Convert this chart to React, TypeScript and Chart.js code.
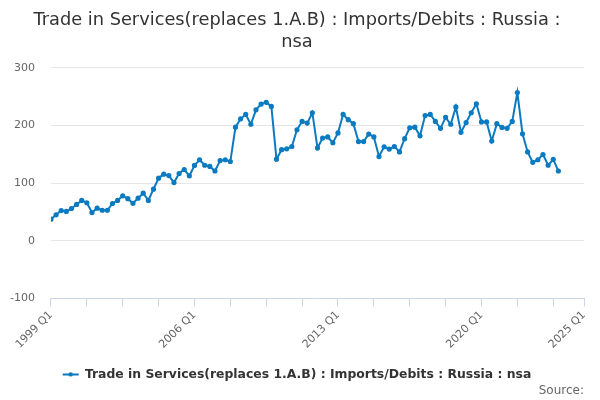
import React, { useEffect, useRef } from "react";
import { Chart, registerables } from "chart.js";

Chart.register(...registerables);

const TITLE_LINES = ["Trade in Services(replaces 1.A.B) : Imports/Debits : Russia :", "nsa"];
const SERIES_NAME = "Trade in Services(replaces 1.A.B) : Imports/Debits : Russia : nsa";
const START_YEAR = 1999;
const Y_TICKS = [-100, 0, 100, 200, 300];
const X_TICK_STEP = 7;
const X_LABEL_STEP = 28;
const X_AXIS_END = 104; // 2025 Q1

const values: number[] = [
  37.5, 45, 52.5, 51, 56, 63, 70, 66, 49, 56.5,
  53, 53, 64.7, 70, 78, 73, 65, 74, 82.5, 70,
  89.5, 108.5, 115.5, 113, 101, 116.7, 123.6, 112.7, 130.6, 140.5,
  131, 129, 121, 139, 140.5, 137.5, 197, 211.5, 219, 202,
  227, 237, 240, 233, 141.5, 158, 159.5, 163.5, 192.5, 207,
  204, 222, 161, 178, 180, 170, 187, 219, 210, 203,
  172, 172, 185, 180, 146, 163, 159, 163.5, 154, 177,
  196, 197, 182, 217, 219, 207, 195, 214, 202, 232,
  188, 205, 222, 237.5, 206, 206, 173, 203, 196.5, 195,
  207, 257, 185.5, 154, 136, 140.5, 149.6, 131, 141, 121,
];

const quarterLabel = (i: number) => `${START_YEAR + Math.floor(i / 4)} Q${(i % 4) + 1}`;

const LINE_COLOR = "#0b7bc1";
const FONT = "'DejaVu Sans', Verdana, sans-serif";
const LEGEND_SHIFT = 7;
const Y_LABEL_GAP = 16;

export default function App() {
  const ref = useRef<HTMLCanvasElement | null>(null);

  useEffect(() => {
    document.body.style.margin = "0";
    if (!ref.current) return;
    const legendTweak = {
      id: "legendTweak",
      afterLayout(chart: any) {
        const lg = chart.legend;
        if (!lg) return;
        lg.top += LEGEND_SHIFT;
        lg.bottom += LEGEND_SHIFT;
      },
      afterDraw(chart: any) {
        const lg = chart.legend;
        if (!lg || !lg.legendHitBoxes || !lg.legendHitBoxes.length) return;
        const hb = lg.legendHitBoxes[0];
        const ctx = chart.ctx;
        ctx.save();
        ctx.fillStyle = LINE_COLOR;
        ctx.beginPath();
        ctx.arc(hb.left + 8, hb.top + hb.height / 2, 2.2, 0, Math.PI * 2);
        ctx.fill();
        ctx.restore();
      },
    };
    const chart = new Chart(ref.current, {
      type: "line",
      data: {
        datasets: [
          {
            label: SERIES_NAME,
            data: values.map((v, i) => ({ x: i, y: v })),
            borderColor: LINE_COLOR,
            backgroundColor: LINE_COLOR,
            borderWidth: 2,
            pointRadius: 1.6,
            pointHoverRadius: 3,
            pointStyle: "circle",
            tension: 0,
          },
        ],
      },
      plugins: [legendTweak],
      options: {
        animation: false,
        responsive: true,
        maintainAspectRatio: false,
        layout: { padding: { left: 10, right: 16, top: 6, bottom: 2 } },
        scales: {
          x: {
            type: "linear",
            min: 0,
            max: X_AXIS_END,
            afterBuildTicks: (axis: any) => {
              const t: any[] = [];
              for (let v = 0; v < X_AXIS_END; v += X_TICK_STEP) t.push({ value: v });
              t.push({ value: X_AXIS_END });
              axis.ticks = t;
            },
            afterFit: (axis: any) => {
              axis.height += 5;
            },
            grid: {
              drawOnChartArea: false,
              drawTicks: true,
              tickLength: 8,
              color: "#ccd6eb",
              tickColor: "#ccd6eb",
            },
            border: { color: "#ccd6eb", width: 1 },
            ticks: {
              autoSkip: false,
              maxRotation: 45,
              minRotation: 45,
              padding: 2,
              color: "#666666",
              font: { family: FONT, size: 11 },
              callback: (v: any) => {
                const n = Number(v);
                return n % X_LABEL_STEP === 0 || n === X_AXIS_END ? quarterLabel(n) : "";
              },
            },
          },
          y: {
            min: Y_TICKS[0],
            max: Y_TICKS[Y_TICKS.length - 1],
            afterBuildTicks: (axis: any) => {
              axis.ticks = Y_TICKS.map((v) => ({ value: v }));
            },
            afterFit: (axis: any) => {
              axis.width -= Y_LABEL_GAP;
            },
            grid: { color: "#e6e6e6", drawTicks: false },
            border: { display: false },
            ticks: {
              padding: Y_LABEL_GAP,
              color: "#666666",
              font: { family: FONT, size: 11 },
            },
          },
        },
        plugins: {
          title: {
            display: true,
            text: TITLE_LINES,
            color: "#333333",
            font: { family: FONT, size: 17.8, weight: "normal", lineHeight: 1.2 },
            padding: { top: 4, bottom: 15 },
          },
          subtitle: {
            display: true,
            position: "bottom",
            align: "end",
            text: "Source:",
            color: "#666666",
            font: { family: FONT, size: 12, weight: "normal" },
            padding: { top: 0, bottom: 0 },
          },
          legend: {
            display: true,
            position: "bottom",
            labels: {
              usePointStyle: true,
              pointStyle: "line",
              pointStyleWidth: 16,
              boxHeight: 2,
              color: "#333333",
              font: { family: FONT, size: 12.4, weight: "bold" },
              padding: 3,
            },
          },
          tooltip: { enabled: false },
        },
      } as any,
    });
    return () => chart.destroy();
  }, []);

  return (
    <div style={{ width: 600, height: 400, position: "relative" }}>
      <canvas ref={ref} />
    </div>
  );
}
